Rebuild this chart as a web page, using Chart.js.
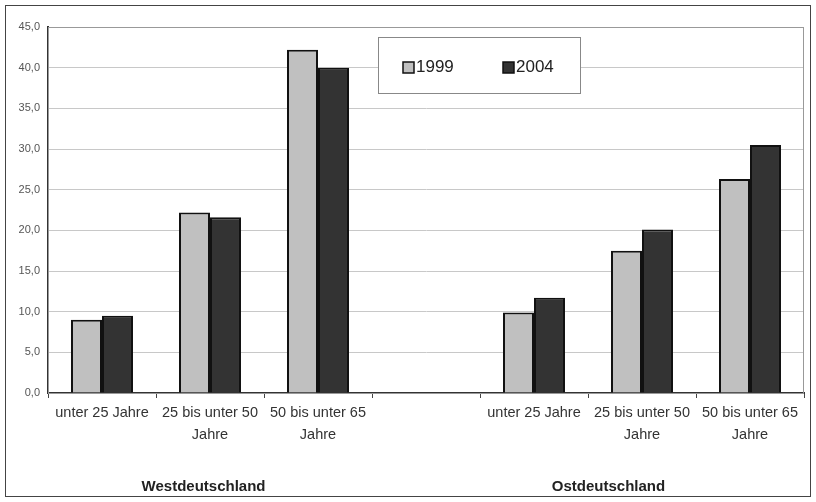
<!DOCTYPE html>
<html>
<head>
<meta charset="utf-8">
<script src="https://cdn.jsdelivr.net/npm/chart.js@4.4.1/dist/chart.umd.min.js"></script>
<style>
    html, body { margin: 0; padding: 0; background: #fff; }
    canvas { display: block; }
</style>
</head>
<body>
<canvas id="chart" width="816" height="502"></canvas>
<script>
// age groups, west first, an empty slot as gap, then east
const categories = [
    'unter 25 Jahre', ['25 bis unter 50', 'Jahre'], ['50 bis unter 65', 'Jahre'],
    '',
    'unter 25 Jahre', ['25 bis unter 50', 'Jahre'], ['50 bis unter 65', 'Jahre']
];
const values1999 = [9.0, 22.2, 42.2, null, 9.9, 17.5, 26.3];
const values2004 = [9.5, 21.6, 40.0, null, 11.7, 20.1, 30.5];
const seriesLabels = ['1999', '2004'];
const seriesColors = ['#c0c0c0', '#333333'];
const groupLabels = ['Westdeutschland', 'Ostdeutschland'];
const groupPositions = [0.94, 4.69]; // in category index units
const yMax = 45;
const yStep = 5;

const FONT = '"Liberation Sans", Arial, sans-serif';

/**
 * formats a tick value the german way, e.g. 15,0
 *
 * @param {number} v tick value
 * @returns {string} label
 */
function formatTick(v) {
    return v.toFixed(1).replace('.', ',');
}

const decorPlugin = {
    id: 'decor',
    beforeDatasetsDraw(chart) {
        const { ctx, chartArea: a } = chart;
        ctx.save();
        ctx.strokeStyle = '#999';
        ctx.lineWidth = 1;
        ctx.strokeRect(a.left + 0.5, a.top + 0.5, a.right - a.left - 1, a.bottom - a.top);
        ctx.restore();
    },
    afterDraw(chart) {
        const { ctx, chartArea: a } = chart;
        const xScale = chart.scales.x;
        ctx.save();

        // outer frame
        ctx.strokeStyle = '#444';
        ctx.lineWidth = 1;
        ctx.strokeRect(5.5, 5.5, chart.width - 11, chart.height - 11);

        // legend box
        const lx = a.left + 330, ly = a.top + 10, lw = 202, lh = 56;
        ctx.fillStyle = '#fff';
        ctx.fillRect(lx, ly, lw, lh);
        ctx.strokeStyle = '#888';
        ctx.strokeRect(lx + 0.5, ly + 0.5, lw, lh);
        ctx.font = '17px ' + FONT;
        ctx.textBaseline = 'middle';
        ctx.textAlign = 'left';
        seriesLabels.forEach((label, i) => {
            const sx = lx + 25 + i * 100;
            const sy = ly + 25;
            ctx.fillStyle = seriesColors[i];
            ctx.fillRect(sx, sy, 11, 11);
            ctx.strokeStyle = '#111';
            ctx.lineWidth = 1.5;
            ctx.strokeRect(sx, sy, 11, 11);
            ctx.fillStyle = '#222';
            ctx.fillText(label, sx + 13, sy + 5);
        });

        // group labels under the axis
        ctx.font = 'bold 15px ' + FONT;
        ctx.textAlign = 'center';
        ctx.fillStyle = '#222';
        groupLabels.forEach((label, i) => {
            ctx.fillText(label, xScale.getPixelForValue(groupPositions[i]), a.bottom + 94);
        });
        ctx.restore();
    }
};

new Chart(document.getElementById('chart'), {
    type: 'bar',
    data: {
        labels: categories,
        datasets: [
            {
                label: seriesLabels[0],
                data: values1999,
                backgroundColor: seriesColors[0],
                borderColor: '#111',
                borderWidth: 2,
                categoryPercentage: 0.574,
                barPercentage: 1.0,
            },
            {
                label: seriesLabels[1],
                data: values2004,
                backgroundColor: seriesColors[1],
                borderColor: '#111',
                borderWidth: 2,
                categoryPercentage: 0.574,
                barPercentage: 1.0,
            }
        ]
    },
    options: {
        responsive: false,
        animation: false,
        devicePixelRatio: 1,
        layout: { padding: { left: 0, top: 27, right: 12, bottom: 0 } },
        plugins: {
            legend: { display: false },
            tooltip: { enabled: false },
        },
        scales: {
            x: {
                afterFit(scale) { scale.height = 109; },
                grid: {
                    drawOnChartArea: false,
                    drawTicks: true,
                    tickLength: 5,
                    color: '#444',
                    offset: true,
                },
                border: { color: '#333', width: 2 },
                ticks: {
                    autoSkip: false,
                    maxRotation: 0,
                    padding: 4,
                    color: '#333',
                    font: { family: FONT, size: 14.5, lineHeight: 1.5 },
                },
            },
            y: {
                min: 0,
                max: yMax,
                afterFit(scale) { scale.width = 48; },
                grid: {
                    color: '#c8c8c8',
                    lineWidth: 1,
                    drawTicks: false,
                },
                border: { color: '#333', width: 2 },
                ticks: {
                    stepSize: yStep,
                    padding: 8,
                    color: '#555',
                    font: { family: FONT, size: 11 },
                    callback: (v) => formatTick(v),
                },
            }
        }
    },
    plugins: [decorPlugin]
});
</script>
</body>
</html>
